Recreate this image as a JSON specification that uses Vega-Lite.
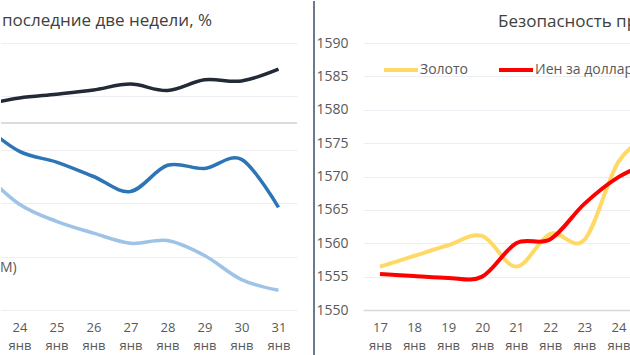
{
  "$schema": "https://vega.github.io/schema/vega-lite/v6.json",
  "padding": 0,
  "background": "white",
  "bounds": "flush",
  "spacing": 17,
  "resolve": {"scale": {"x": "independent", "y": "independent", "color": "independent"}, "axis": {"x": "independent", "y": "independent"}, "legend": {"color": "independent"}},
  "config": {
    "font": "Open Sans",
    "view": {"stroke": null},
    "axis": {"labelFont": "Open Sans", "labelColor": "#595959", "gridColor": "#eceef4", "gridWidth": 1, "labelOverlap": false},
    "title": {"font": "Open Sans", "fontSize": 17, "fontWeight": "normal", "color": "#404040", "anchor": "start", "frame": "group"}
  },
  "datasets": {
    "left": [
      {"day": 23, "series": "black", "value": 0.34},
      {"day": 24, "series": "black", "value": 0.47},
      {"day": 25, "series": "black", "value": 0.54},
      {"day": 26, "series": "black", "value": 0.62},
      {"day": 27, "series": "black", "value": 0.73},
      {"day": 28, "series": "black", "value": 0.61},
      {"day": 29, "series": "black", "value": 0.81},
      {"day": 30, "series": "black", "value": 0.79},
      {"day": 31, "series": "black", "value": 1.01},
      {"day": 23, "series": "blue", "value": -0.02},
      {"day": 24, "series": "blue", "value": -0.53},
      {"day": 25, "series": "blue", "value": -0.73},
      {"day": 26, "series": "blue", "value": -1.0},
      {"day": 27, "series": "blue", "value": -1.28},
      {"day": 28, "series": "blue", "value": -0.79},
      {"day": 29, "series": "blue", "value": -0.85},
      {"day": 30, "series": "blue", "value": -0.68},
      {"day": 31, "series": "blue", "value": -1.58},
      {"day": 23, "series": "lightblue", "value": -0.9},
      {"day": 24, "series": "lightblue", "value": -1.52},
      {"day": 25, "series": "lightblue", "value": -1.84},
      {"day": 26, "series": "lightblue", "value": -2.06},
      {"day": 27, "series": "lightblue", "value": -2.25},
      {"day": 28, "series": "lightblue", "value": -2.2},
      {"day": 29, "series": "lightblue", "value": -2.48},
      {"day": 30, "series": "lightblue", "value": -2.93},
      {"day": 31, "series": "lightblue", "value": -3.13}
    ],
    "right": [
      {"day": 17, "series": "Золото", "value": 1556.5},
      {"day": 18, "series": "Золото", "value": 1558.1},
      {"day": 19, "series": "Золото", "value": 1559.7},
      {"day": 20, "series": "Золото", "value": 1561.1},
      {"day": 21, "series": "Золото", "value": 1556.5},
      {"day": 22, "series": "Золото", "value": 1561.4},
      {"day": 23, "series": "Золото", "value": 1560.5},
      {"day": 24, "series": "Золото", "value": 1572.2},
      {"day": 25, "series": "Золото", "value": 1576.5},
      {"day": 17, "series": "Иен за доллар", "value": 1555.4},
      {"day": 18, "series": "Иен за доллар", "value": 1555.1},
      {"day": 19, "series": "Иен за доллар", "value": 1554.8},
      {"day": 20, "series": "Иен за доллар", "value": 1555.0},
      {"day": 21, "series": "Иен за доллар", "value": 1560.0},
      {"day": 22, "series": "Иен за доллар", "value": 1560.6},
      {"day": 23, "series": "Иен за доллар", "value": 1565.9},
      {"day": 24, "series": "Иен за доллар", "value": 1569.9},
      {"day": 25, "series": "Иен за доллар", "value": 1572.2}
    ]
  },
  "hconcat": [
    {
      "width": 296,
      "height": 267,
      "title": {"text": "последние две недели, %", "dx": 1, "offset": 13, "frame": "group"},
      "layer": [
        {
          "data": {"name": "left"},
          "mark": {"type": "line", "interpolate": "cardinal", "strokeWidth": 3.5, "clip": true},
          "encoding": {
            "x": {
              "field": "day", "type": "quantitative",
              "scale": {"domain": [23.5, 31.5], "nice": false, "zero": false},
              "axis": {"values": [24, 25, 26, 27, 28, 29, 30, 31], "title": null, "grid": false, "domain": false, "ticks": false, "labelFontSize": 13, "labelPadding": 11, "labelLineHeight": 18, "labelExpr": "[format(datum.value, 'd'), 'янв']"}
            },
            "y": {
              "field": "value", "type": "quantitative",
              "scale": {"domain": [-3.5, 1.5], "nice": false, "zero": false},
              "axis": {"values": [-3.5, -3, -2.5, -2, -1.5, -1, -0.5, 0, 0.5, 1, 1.5], "title": null, "labels": false, "ticks": false, "domain": false, "grid": true}
            },
            "color": {
              "field": "series", "type": "nominal",
              "scale": {"domain": ["black", "blue", "lightblue"], "range": ["#222a35", "#2e75b6", "#9dc3e6"]},
              "legend": null
            }
          }
        },
        {
          "data": {"values": [{"value": 0}]},
          "mark": {"type": "rule", "color": "#d0d0d0", "strokeWidth": 1.5},
          "encoding": {"y": {"field": "value", "type": "quantitative"}}
        },
        {
          "data": {"values": [{"day": 23.5, "value": -2.72, "label": "M)"}]},
          "mark": {"type": "text", "align": "left", "baseline": "middle", "fontSize": 14, "color": "#595959", "dx": -1},
          "encoding": {
            "x": {"field": "day", "type": "quantitative"},
            "y": {"field": "value", "type": "quantitative"},
            "text": {"field": "label"}
          }
        }
      ]
    },
    {
      "width": 32,
      "height": 267,
      "data": {"values": [{"pos": 0, "top": 1.157, "bottom": -0.172}]},
      "mark": {"type": "rule", "color": "#6b7a8c", "strokeWidth": 2, "clip": false},
      "encoding": {
        "x": {"field": "pos", "type": "quantitative", "scale": {"domain": [0, 1]}, "axis": null},
        "y": {"field": "top", "type": "quantitative", "scale": {"domain": [0, 1]}, "axis": null},
        "y2": {"field": "bottom"}
      }
    },
    {
      "width": 268,
      "height": 267,
      "title": {"text": "Безопасность пр", "dx": 135, "offset": 5, "frame": "group"},
      "data": {"name": "right"},
      "mark": {"type": "line", "interpolate": "cardinal", "strokeWidth": 4, "clip": true},
      "encoding": {
        "x": {
          "field": "day", "type": "quantitative",
          "scale": {"domain": [16.5, 24.37], "nice": false, "zero": false},
          "axis": {"values": [17, 18, 19, 20, 21, 22, 23, 24], "title": null, "grid": false, "domain": true, "domainColor": "#d9d9d9", "domainWidth": 1.5, "ticks": false, "labelFontSize": 13, "labelPadding": 11, "labelLineHeight": 18, "labelExpr": "[format(datum.value, 'd'), 'янв']"}
        },
        "y": {
          "field": "value", "type": "quantitative",
          "scale": {"domain": [1550, 1590], "nice": false, "zero": false},
          "axis": {"values": [1550, 1555, 1560, 1565, 1570, 1575, 1580, 1585, 1590], "format": "d", "title": null, "ticks": false, "domain": false, "grid": true, "labelFontSize": 14, "labelPadding": 15}
        },
        "color": {
          "field": "series", "type": "nominal",
          "scale": {"domain": ["Золото", "Иен за доллар"], "range": ["#ffd966", "#ff0000"]},
          "legend": {
            "title": null, "orient": "none", "direction": "horizontal", "legendX": 19, "legendY": 8,
            "symbolType": "stroke", "symbolSize": 1156, "symbolStrokeWidth": 4, "labelFontSize": 14, "labelColor": "#595959", "labelOffset": 0, "columnPadding": 22, "labelLimit": 300
          }
        }
      }
    }
  ]
}
